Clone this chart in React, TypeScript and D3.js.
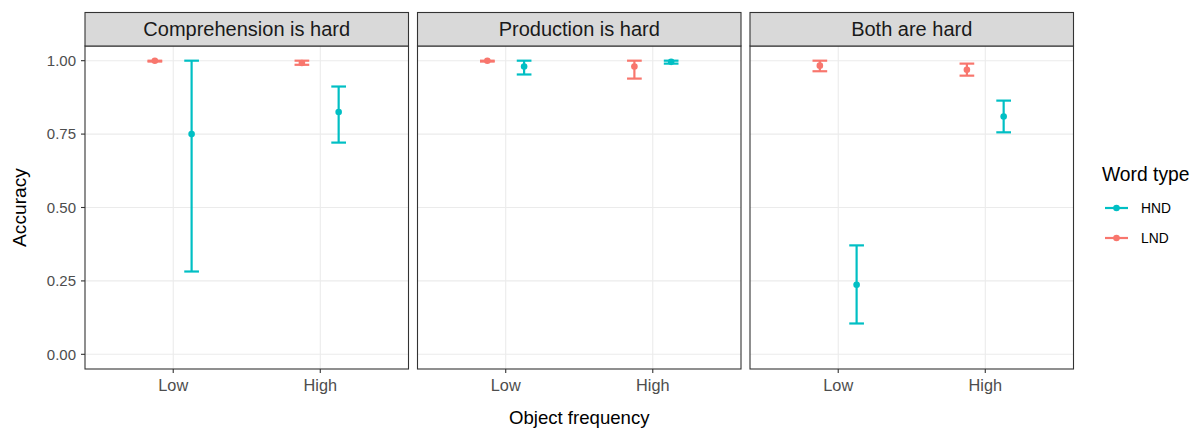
import React, { useEffect, useRef } from 'react'
import * as d3 from 'd3'

// panel titles and x levels
const facets = ['Comprehension is hard', 'Production is hard', 'Both are hard']
const freqLevels = ['Low', 'High']
const wordTypes = ['HND', 'LND']
const yTicks = [0, 0.25, 0.5, 0.75, 1]

// values per facet, [Low, High]
const hndMean = [[0.75, 0.825], [0.98, 0.996], [0.237, 0.81]]
const hndLow = [[0.282, 0.721], [0.953, 0.99], [0.105, 0.756]]
const hndHigh = [[1.0, 0.912], [1.0, 1.0], [0.371, 0.864]]

const lndMean = [[1.0, 0.992], [1.0, 0.98], [0.983, 0.969]]
const lndLow = [[0.997, 0.986], [0.997, 0.939], [0.964, 0.949]]
const lndHigh = [[1.0, 1.0], [1.0, 1.0], [1.0, 0.99]]

const colors: Record<string, string> = { HND: '#00BFC4', LND: '#F8766D' }

const App = () => {
  const svgRef = useRef<SVGSVGElement>(null)

  useEffect(() => {
    const svg = d3.select(svgRef.current)
    svg.selectAll('*').remove()

    const W = 1195
    const H = 428
    const panelLeft = 85
    const panelW = 323.5
    const gap = 9
    const top = 46
    const bottom = 369
    const stripTop = 12.5
    const font = '"Liberation Sans", Arial, sans-serif'

    svg.attr('width', W).attr('height', H)

    const y = d3.scaleLinear().domain([-0.05, 1.05]).range([bottom, top])

    // rows of data per word type
    const rows = facets.flatMap((f, fi) =>
      freqLevels.flatMap((lvl, li) => [
        { facet: fi, level: lvl, type: 'HND', mean: hndMean[fi][li], lo: hndLow[fi][li], hi: hndHigh[fi][li] },
        { facet: fi, level: lvl, type: 'LND', mean: lndMean[fi][li], lo: lndLow[fi][li], hi: lndHigh[fi][li] },
      ])
    )

    const dodge: Record<string, number> = { LND: -0.125, HND: 0.125 }

    facets.forEach((name, fi) => {
      const x0 = panelLeft + fi * (panelW + gap)
      // discrete positions 1,2 expanded by 0.6
      const x = d3.scaleLinear().domain([0.4, 2.6]).range([x0, x0 + panelW])
      const g = svg.append('g')

      g.append('rect')
        .attr('x', x0).attr('y', top).attr('width', panelW).attr('height', bottom - top)
        .attr('fill', 'white')

      // grid
      g.selectAll('line.hgrid').data(yTicks).enter().append('line')
        .attr('x1', x0).attr('x2', x0 + panelW)
        .attr('y1', d => y(d)).attr('y2', d => y(d))
        .attr('stroke', '#EBEBEB').attr('stroke-width', 1.1)
      g.selectAll('line.vgrid').data(freqLevels).enter().append('line')
        .attr('x1', (d, i) => x(i + 1)).attr('x2', (d, i) => x(i + 1))
        .attr('y1', top).attr('y2', bottom)
        .attr('stroke', '#EBEBEB').attr('stroke-width', 1.1)

      // error bars and points
      const data = rows.filter(r => r.facet === fi)
      const cx = (r: any) => x(freqLevels.indexOf(r.level) + 1 + dodge[r.type])
      const capHalf = x(0.05) - x(0)
      data.forEach(r => {
        const c = colors[r.type]
        g.append('line')
          .attr('x1', cx(r)).attr('x2', cx(r)).attr('y1', y(r.lo)).attr('y2', y(r.hi))
          .attr('stroke', c).attr('stroke-width', 2.2)
        ;[r.lo, r.hi].forEach(v => {
          g.append('line')
            .attr('x1', cx(r) - capHalf).attr('x2', cx(r) + capHalf)
            .attr('y1', y(v)).attr('y2', y(v))
            .attr('stroke', c).attr('stroke-width', 2.2)
        })
        g.append('circle')
          .attr('cx', cx(r)).attr('cy', y(r.mean)).attr('r', 3.3)
          .attr('fill', c)
      })

      // border
      g.append('rect')
        .attr('x', x0).attr('y', top).attr('width', panelW).attr('height', bottom - top)
        .attr('fill', 'none').attr('stroke', '#333333').attr('stroke-width', 1.1)

      // strip
      g.append('rect')
        .attr('x', x0).attr('y', stripTop).attr('width', panelW).attr('height', top - stripTop)
        .attr('fill', '#D9D9D9').attr('stroke', '#333333').attr('stroke-width', 1.1)
      g.append('text')
        .attr('x', x0 + panelW / 2).attr('y', (stripTop + top) / 2 + 7)
        .attr('text-anchor', 'middle').attr('font-family', font).attr('font-size', 20)
        .attr('fill', '#1A1A1A').text(name)

      // x axis ticks
      freqLevels.forEach((lvl, i) => {
        g.append('line')
          .attr('x1', x(i + 1)).attr('x2', x(i + 1)).attr('y1', bottom).attr('y2', bottom + 4)
          .attr('stroke', '#333333').attr('stroke-width', 1.1)
        g.append('text')
          .attr('x', x(i + 1)).attr('y', bottom + 22)
          .attr('text-anchor', 'middle').attr('font-family', font).attr('font-size', 16.3)
          .attr('fill', '#4D4D4D').text(lvl)
      })
    })

    // y axis
    const ya = svg.append('g')
    yTicks.forEach(t => {
      ya.append('line')
        .attr('x1', panelLeft - 4).attr('x2', panelLeft).attr('y1', y(t)).attr('y2', y(t))
        .attr('stroke', '#333333').attr('stroke-width', 1.1)
      ya.append('text')
        .attr('x', panelLeft - 9).attr('y', y(t) + 5.4)
        .attr('text-anchor', 'end').attr('font-family', font).attr('font-size', 15)
        .attr('fill', '#4D4D4D').text(d3.format('.2f')(t))
    })

    // axis titles
    svg.append('text')
      .attr('transform', `translate(26,${(top + bottom) / 2}) rotate(-90)`)
      .attr('text-anchor', 'middle').attr('font-family', font).attr('font-size', 19.2)
      .attr('fill', 'black').text('Accuracy')
    const plotRight = panelLeft + 3 * panelW + 2 * gap
    svg.append('text')
      .attr('x', (panelLeft + plotRight) / 2).attr('y', 424)
      .attr('text-anchor', 'middle').attr('font-family', font).attr('font-size', 18.6)
      .attr('fill', 'black').text('Object frequency')

    // legend
    const lg = svg.append('g').attr('transform', 'translate(1102,0)')
    lg.append('text')
      .attr('x', 0).attr('y', 181)
      .attr('font-family', font).attr('font-size', 19.3).attr('fill', 'black')
      .text('Word type')
    wordTypes.forEach((t, i) => {
      const cy = 208 + i * 30
      lg.append('line')
        .attr('x1', 3).attr('x2', 26).attr('y1', cy).attr('y2', cy)
        .attr('stroke', colors[t]).attr('stroke-width', 2.2)
      lg.append('circle').attr('cx', 14.5).attr('cy', cy).attr('r', 3.3).attr('fill', colors[t])
      lg.append('text')
        .attr('x', 39).attr('y', cy + 5)
        .attr('font-family', font).attr('font-size', 13.8).attr('fill', 'black')
        .text(t)
    })
  }, [])

  return (
    <div style={{ position: 'absolute', left: 0, top: 0, width: 1195, height: 428, background: 'white' }}>
      <svg ref={svgRef} style={{ display: 'block' }}></svg>
    </div>
  )
}

export default App
